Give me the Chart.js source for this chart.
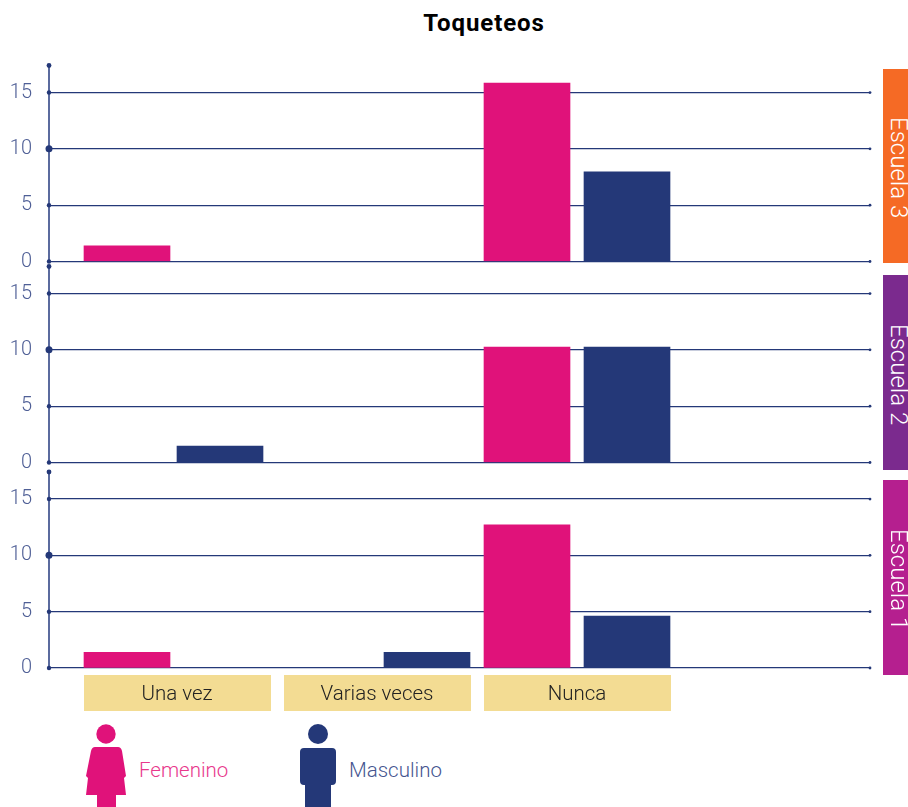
<!DOCTYPE html>
<html>
<head>
<meta charset="utf-8">
<title>Toqueteos</title>
<script src="https://cdn.jsdelivr.net/npm/chart.js@4"></script>
<style>
body{margin:0;background:#fff;width:908px;height:807px;position:relative;overflow:hidden;font-family:Roboto,sans-serif}
canvas{position:absolute;left:0}
#titulo{position:absolute;left:0;top:9px;width:968px;text-align:center;font-size:24px;font-weight:700;color:#000;letter-spacing:.9px}
.banda{position:absolute;left:883px;width:25px;color:#fff;font-size:24px;font-weight:300;writing-mode:vertical-rl;text-align:center;line-height:25px;overflow:hidden}
.banda span{position:relative;left:3px;top:2px}
.leyenda{position:absolute;top:758px;font-size:20.5px;font-weight:300}
svg{position:absolute}
</style>
</head>
<body>
<div id="titulo">Toqueteos</div>

<canvas id="g3" width="908" height="225" style="top:50px"></canvas>
<canvas id="g2" width="908" height="225" style="top:251px"></canvas>
<canvas id="g1" width="908" height="260" style="top:457px"></canvas>

<div class="banda" style="top:69px;height:194px;background:#f56a25"><span>Escuela 3</span></div>
<div class="banda" style="top:275px;height:195px;background:#7b2a8e"><span>Escuela 2</span></div>
<div class="banda" style="top:480px;height:195px;background:#b51f8f"><span>Escuela 1</span></div>

<svg style="left:80px;top:720px" width="55" height="87" viewBox="80 720 55 87">
<circle cx="106" cy="734" r="9.7" fill="#e0127a"/>
<path d="M95 747 H118 Q121 747 122 751 L126 776 L124 778 L126 795 H116 V807 H97 V795 H86 L88 778 L86 776 L91 751 Q92 747 95 747 Z" fill="#e0127a"/>
</svg>
<div class="leyenda" style="left:139px;color:#e8388c">Femenino</div>

<svg style="left:295px;top:720px" width="50" height="87" viewBox="295 720 50 87">
<circle cx="318" cy="734" r="10" fill="#243878"/>
<path d="M304 748 H332 Q336 748 336 752 V781 Q336 785 332 785 H331 V807 H305 V785 H304 Q300 785 300 781 V752 Q300 748 304 748 Z" fill="#243878"/>
</svg>
<div class="leyenda" style="left:349px;color:#45558f">Masculino</div>

<script>
let categorias = ["Una vez","Varias veces","Nunca"]
let ticksY = [0,5,10,15]

let femenino3 = [1.4,null,15.85]
let masculino3 = [null,null,7.95]
let femenino2 = [null,null,10.25]
let masculino2 = [1.45,null,10.25]
let femenino1 = [1.4,null,12.7]
let masculino1 = [null,1.4,4.6]

let rosa = "#e0127a"
let azul = "#243878"

function puntos(valores){
return valores.map((v,i)=>({x:i,y:v}))
}

// puntos del eje y de las lineas
let marcas = {
id:"marcas",
afterDraw(chart){
let c = chart.ctx
let y = chart.scales.y
let a = chart.chartArea
c.save()
c.fillStyle = azul
ticksY.forEach(t=>{
let py = y.getPixelForValue(t)
c.beginPath()
c.arc(a.left,py,t===10?3.5:2.2,0,Math.PI*2)
c.fill()
c.beginPath()
c.arc(a.right,py,1.4,0,Math.PI*2)
c.fill()
})
c.beginPath()
c.arc(a.left,a.top,2.4,0,Math.PI*2)
c.fill()
c.restore()
}
}

// en "Una vez" la barra masculina va mas cerca de la femenina
let ajuste = {
id:"ajuste",
beforeDatasetsDraw(chart){
let barra = chart.getDatasetMeta(1).data[0]
if(barra) barra.x = barra.$ajustada || (barra.$ajustada = barra.x - 7)
}
}

// cajas amarillas con las categorias
let cajas = {
id:"cajas",
afterDraw(chart){
let c = chart.ctx
let x = chart.scales.x
let base = chart.chartArea.bottom
c.save()
categorias.forEach((cat,i)=>{
let px = x.getPixelForValue(i)
c.fillStyle = "#f3dc93"
c.fillRect(px-93,base+7,187,36)
c.fillStyle = "#222"
c.font = "300 20.5px Roboto"
c.textAlign = "center"
c.textBaseline = "middle"
c.fillText(cat,px,base+27)
})
c.restore()
}
}

function crearGrafico(id,fem,masc,arriba,abajo,extras){
new Chart(document.getElementById(id),{
type:"bar",
data:{
datasets:[
{label:"Femenino",data:puntos(fem),backgroundColor:rosa},
{label:"Masculino",data:puntos(masc),backgroundColor:azul}
]
},
options:{
responsive:false,
animation:false,
barThickness:100,
maxBarThickness:86,
layout:{padding:{top:arriba,bottom:abajo,right:38,left:0}},
plugins:{legend:{display:false},tooltip:{enabled:false}},
scales:{
x:{
type:"linear",
offset:false,
min:-0.64,
max:3.465,
display:false
},
y:{
min:0,
max:17.4,
afterFit(s){
s.width=49
s.paddingTop=0
s.paddingBottom=0
},
border:{color:"#5b6b9e",width:2},
grid:{color:azul,lineWidth:1.3,drawTicks:false},
ticks:{
stepSize:5,
includeBounds:false,
padding:17,
color:"#4f5f96",
font:{family:"Roboto",size:20,weight:"300"}
}
}
}
},
plugins:[marcas].concat(extras)
})
}

crearGrafico("g3",femenino3,masculino3,15.5,13.5,[])
crearGrafico("g2",femenino2,masculino2,15.5,13.5,[ajuste])
crearGrafico("g1",femenino1,masculino1,15,49,[cajas])
</script>
</body>
</html>
